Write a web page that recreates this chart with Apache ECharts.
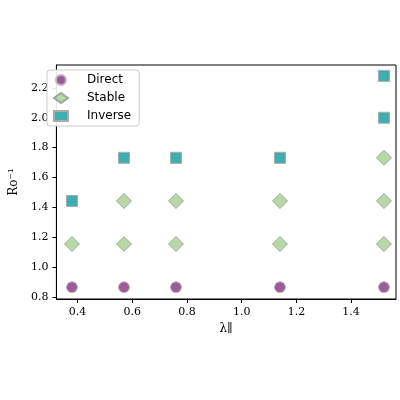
<!DOCTYPE html><html><head><meta charset="utf-8"><script src="https://cdn.jsdelivr.net/npm/echarts@6/dist/echarts.min.js"></script></head><body style="margin:0"><div id="c" style="width:400px;height:400px"></div><script>
const direct=[[0.38,0.866],[0.57,0.866],[0.76,0.866],[1.14,0.866],[1.52,0.866]];
const stable=[[0.38,1.155],[0.57,1.155],[0.57,1.443],[0.76,1.155],[0.76,1.443],[1.14,1.155],[1.14,1.443],[1.52,1.155],[1.52,1.443],[1.52,1.732]];
const inverse=[[0.38,1.443],[0.57,1.732],[0.76,1.732],[1.14,1.732],[1.52,2.0],[1.52,2.28]];
const xTicks=[0.4,0.6,0.8,1.0,1.2,1.4];
const yTicks=[0.8,1.0,1.2,1.4,1.6,1.8,2.0,2.2];
const serif='DejaVu Serif';
const ax={axisLine:{lineStyle:{color:'#000'}},axisTick:{lineStyle:{color:'#000'},length:4},splitLine:{show:false}};
const c=echarts.init(document.getElementById('c'));
c.setOption({animation:false,
grid:{left:41,right:4,top:65,bottom:101,show:true,borderColor:'#000',borderWidth:1,backgroundColor:'transparent'},
legend:{left:47,top:70,orient:'vertical',itemGap:6,itemWidth:14,itemHeight:10,backgroundColor:'rgba(255,255,255,0.9)',borderColor:'#ccc',borderWidth:1,borderRadius:3,padding:[4,8,4,6],textStyle:{fontFamily:'DejaVu Sans',fontSize:12,color:'#000',padding:[0,0,0,14]},data:['Direct','Stable','Inverse']},
xAxis:{type:'value',min:0.323,max:1.564,name:'λ∥',nameLocation:'middle',nameGap:22,nameTextStyle:{fontFamily:serif,fontSize:12,color:'#000'},...ax,axisTick:{...ax.axisTick,customValues:xTicks},axisLabel:{customValues:xTicks,formatter:v=>v.toFixed(1),fontFamily:serif,fontSize:11,color:'#000'}},
yAxis:{type:'value',min:0.787,max:2.353,name:'Ro⁻¹',nameLocation:'middle',nameGap:30,nameTextStyle:{fontFamily:serif,fontSize:12,color:'#000'},...ax,axisTick:{...ax.axisTick,customValues:yTicks},axisLabel:{customValues:yTicks,formatter:v=>v.toFixed(1),fontFamily:serif,fontSize:11,color:'#000'}},
series:[
{name:'Direct',type:'scatter',data:direct,symbol:'circle',symbolSize:11,itemStyle:{color:'#9e5a99',borderColor:'#bbb',borderWidth:1,opacity:1}},
{name:'Stable',type:'scatter',data:stable,symbol:'diamond',symbolSize:15,itemStyle:{color:'#b8d6a6',borderColor:'#9a9',borderWidth:1,opacity:1}},
{name:'Inverse',type:'scatter',data:inverse,symbol:'rect',symbolSize:11,itemStyle:{color:'#40adb0',borderColor:'#aaa',borderWidth:1,opacity:1}}
]});
</script></body></html>
